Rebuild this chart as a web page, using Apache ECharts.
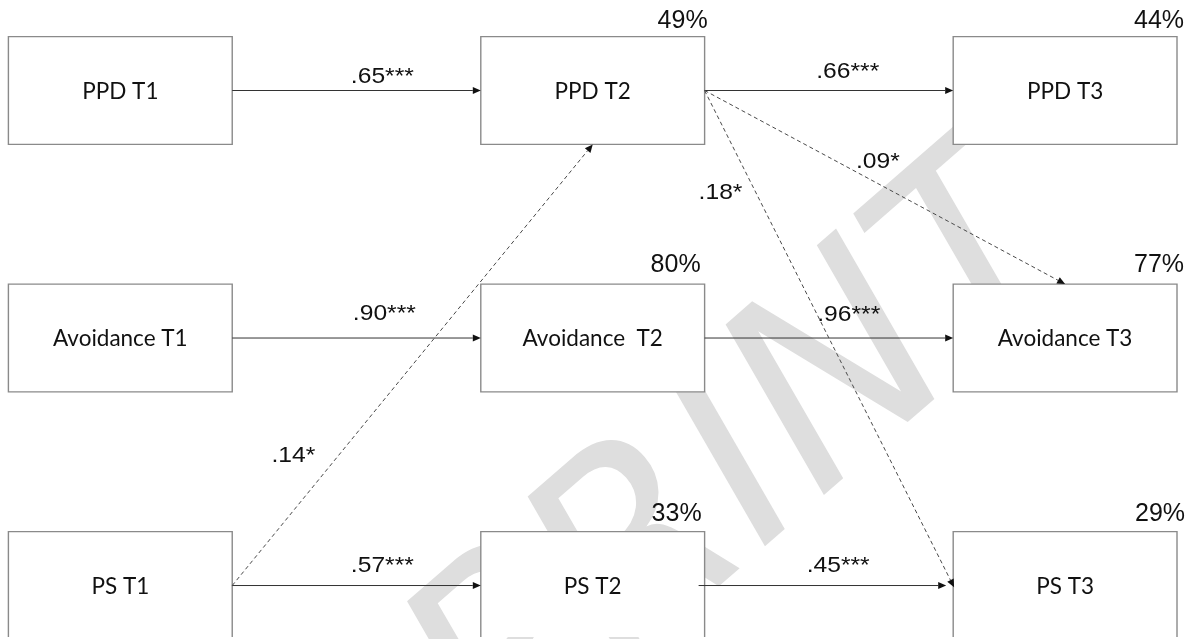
<!DOCTYPE html>
<html>
<head>
<meta charset="utf-8">
<script src="https://cdn.jsdelivr.net/npm/echarts@6/dist/echarts.min.js"></script>
<style>
html,body{margin:0;padding:0;background:#ffffff;}
#chart{width:1196px;height:639px;}
</style>
</head>
<body>
<div id="chart"></div>
<script>
// ---------------- DATA ----------------
const nodeNames = ['PPD T1', 'PPD T2', 'PPD T3',
                   'Avoidance T1', 'Avoidance  T2', 'Avoidance T3',
                   'PS T1', 'PS T2', 'PS T3'];
const nodeCol = [0, 1, 2, 0, 1, 2, 0, 1, 2];
const nodeRow = [0, 0, 0, 1, 1, 1, 2, 2, 2];
const rSquared = ['', '49%', '44%', '', '80%', '77%', '', '33%', '29%'];

const edgeFrom = [0, 1, 3, 4, 6, 7, 6, 1, 1];
const edgeTo   = [1, 2, 4, 5, 7, 8, 1, 5, 8];
const edgeCoef = ['.65***', '.66***', '.90***', '.96***', '.57***', '.45***', '.14*', '.09*', '.18*'];

// ---------------- LAYOUT / STYLE (not data) ----------------
const edgeDashed     = [false, false, false, false, false, false, true, true, true];
const edgeTargetSide = ['left', 'left', 'left', 'left', 'left', 'left', 'bottom', 'top', 'left'];
const edgeStartShift = [0, 0, 0, 0, 0, -6, 0, 0, 0];   // px along the edge
const edgeEndGap     = [0, 0, 0, 0, 0, 7, 0, 0, -2];    // px short of the target
const labelT  = [0.6, 0.6, 0.6, 0.6, 0.6, 0.6, 0.3, 0.45, 0.2];
const labelDx = [1, -6, 3, -5, 1, -9, -47, 11, -34];
const labelDy = [-14, -19, -24, -23, -20, -20, 3, -16, 3];
const r2Dx = [0, 3, 7, 0, -4, 7, 0, -3, 8];
const r2Dy = [0, -15.5, -15.5, 0, -19, -19, 0, -17.7, -17.7];

const BOX_HW = 0.2369;  // half box width in column units
const BOX_HH = 0.2178;  // half box height in row units

const BOX_FONT = '22.5px Lato, "Noto Sans", sans-serif';
const COEF_FONT = '22px "Liberation Sans", Arial, sans-serif';
const PCT_FONT = '25px "Liberation Sans", Arial, sans-serif';

function boxRect(api, i) {
  const p0 = api.coord([nodeCol[i] - BOX_HW, nodeRow[i] - BOX_HH]);
  const p1 = api.coord([nodeCol[i] + BOX_HW, nodeRow[i] + BOX_HH]);
  return {x0: p0[0], y0: p0[1], x1: p1[0], y1: p1[1]};
}

function renderNode(params, api) {
  const i = api.value(2);
  const b = boxRect(api, i);
  const c = api.coord([nodeCol[i], nodeRow[i]]);
  const children = [
    {type: 'rect', shape: {x: b.x0, y: b.y0, width: b.x1 - b.x0, height: b.y1 - b.y0},
     style: {fill: '#ffffff', stroke: '#8a8a8a', lineWidth: 1.4}},
    {type: 'text', x: c[0], y: c[1] + 1,
     style: {text: nodeNames[i], font: BOX_FONT, fill: '#111111', align: 'center', verticalAlign: 'middle'}}
  ];
  if (rSquared[i]) {
    children.push({type: 'text', x: b.x1 + r2Dx[i], y: b.y0 + r2Dy[i],
      style: {text: rSquared[i], font: PCT_FONT, fill: '#111111', align: 'right', verticalAlign: 'middle'}});
  }
  return {type: 'group', children: children};
}

function anchor(api, i, side) {
  const b = boxRect(api, i);
  const cx = (b.x0 + b.x1) / 2, cy = (b.y0 + b.y1) / 2;
  if (side === 'right') return [b.x1, cy];
  if (side === 'left') return [b.x0, cy];
  if (side === 'top') return [cx, b.y0];
  return [cx, b.y1];
}

function renderEdge(params, api) {
  const k = api.value(0);
  let s = anchor(api, edgeFrom[k], 'right');
  let t = anchor(api, edgeTo[k], edgeTargetSide[k]);
  let dx = t[0] - s[0], dy = t[1] - s[1];
  const len = Math.sqrt(dx * dx + dy * dy);
  const ux = dx / len, uy = dy / len;
  s = [s[0] + ux * edgeStartShift[k], s[1] + uy * edgeStartShift[k]];
  t = [t[0] - ux * edgeEndGap[k], t[1] - uy * edgeEndGap[k]];
  const AL = 8, AW = 3.6;
  const base = [t[0] - ux * AL, t[1] - uy * AL];
  const nx = -uy, ny = ux;
  const col = edgeDashed[k] ? '#4a4a4a' : '#333333';
  const lineStyle = {stroke: col, lineWidth: 1, fill: null};
  if (edgeDashed[k]) lineStyle.lineDash = [4, 3];
  const L = labelT[k];
  const lx = s[0] + (t[0] - s[0]) * L + labelDx[k];
  const ly = s[1] + (t[1] - s[1]) * L + labelDy[k];
  return {type: 'group', children: [
    {type: 'line', shape: {x1: s[0], y1: s[1], x2: base[0], y2: base[1]}, style: lineStyle},
    {type: 'polygon', shape: {points: [t, [base[0] + nx * AW, base[1] + ny * AW], [base[0] - nx * AW, base[1] - ny * AW]]},
     style: {fill: '#111111'}},
    {type: 'text', x: lx, y: ly, scaleX: 1.12,
     style: {text: edgeCoef[k], font: COEF_FONT, fill: '#111111', align: 'center', verticalAlign: 'middle'}}
  ]};
}

const chart = echarts.init(document.getElementById('chart'), null, {renderer: 'canvas'});
chart.setOption({
  animation: false,
  backgroundColor: '#ffffff',
  grid: {left: 0, right: 0, top: 0, bottom: 2, containLabel: false},
  xAxis: {type: 'value', min: -0.2547, max: 2.2771, show: false},
  yAxis: {type: 'value', inverse: true, min: -0.3657, max: 2.2080, show: false},
  graphic: [{
    type: 'text', z: -10, x: 750, y: 468, rotation: 41 * Math.PI / 180,
    style: {text: 'PRINT', font: 'italic 265px "DejaVu Sans", sans-serif', fill: '#dedede',
            align: 'center', verticalAlign: 'middle'}
  }],
  series: [
    {
      type: 'custom', name: 'edges', coordinateSystem: 'cartesian2d', clip: true, z: 3,
      data: edgeFrom.map((f, k) => [k, 0]),
      encode: {x: 0, y: 1},
      renderItem: renderEdge
    },
    {
      type: 'custom', name: 'nodes', coordinateSystem: 'cartesian2d', clip: true, z: 2,
      data: nodeNames.map((n, i) => [nodeCol[i], nodeRow[i], i]),
      encode: {x: 0, y: 1},
      renderItem: renderNode
    }
  ]
});
</script>
</body>
</html>
